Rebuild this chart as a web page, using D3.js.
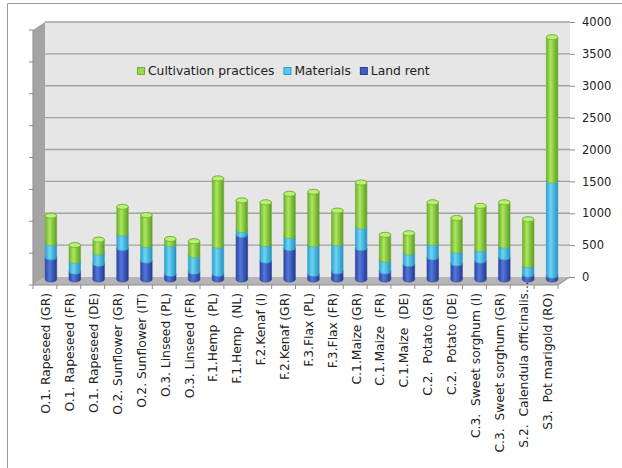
<!DOCTYPE html>
<html>
<head>
<meta charset="utf-8">
<script src="https://cdn.jsdelivr.net/npm/d3@7"></script>
<style>
  html, body { margin: 0; padding: 0; background: #fff; }
  svg { display: block; font-family: "DejaVu Sans", sans-serif; }
</style>
</head>
<body>
<svg id="chart" width="622" height="468"></svg>
<script>
// Crop cost breakdown (EUR/ha), stacked per crop / country
const categories = [
  "O.1. Rapeseed (GR)", "O.1. Rapeseed (FR)", "O.1. Rapeseed (DE)",
  "O.2. Sunflower (GR)", "O.2. Sunflower (IT)", "O.3. Linseed (PL)",
  "O.3. Linseed (FR)", "F.1.Hemp  (PL)", "F.1.Hemp  (NL)",
  "F.2.Kenaf (I)", "F.2.Kenaf (GR)", "F.3.Flax (PL)", "F.3.Flax (FR)",
  "C.1.Maize (GR)", "C.1.Maize  (FR)", "C.1.Maize  (DE)",
  "C.2.  Potato (GR)", "C.2.  Potato (DE)", "C.3.  Sweet sorghum (I)",
  "C.3.  Sweet sorghum (GR)", "S.2.  Calendula officinalis...", "S3.  Pot marigold (RO)"
];
const landRent    = [345, 120, 245, 490, 295,  85, 120,   85, 700, 295, 490,  85, 125, 490, 125, 240, 345, 250, 295, 345,  75,   60];
const materials   = [225, 175, 180, 230, 245, 470, 260,  445,  75, 260, 190, 465, 440, 340, 185, 185, 230, 200, 180, 185, 150, 1490];
const cultivation = [430, 245, 200, 420, 470,  80, 220, 1055, 465, 655, 665, 825, 515, 690, 390, 300, 635, 515, 680, 680, 720, 2250];
const seriesNames = ["Land rent", "Materials", "Cultivation practices"];
const legendOrder = ["Cultivation practices", "Materials", "Land rent"];
const yTicks = [0, 500, 1000, 1500, 2000, 2500, 3000, 3500, 4000];

const svg = d3.select("#chart");

// oblique projection: the back plane sits up-right of the front plane
const depthX = 12, depthY = 8;
const front = { left: 33, right: 558, floor: 285 };
const back  = { left: front.left + depthX, right: front.right + depthX, floor: front.floor - depthY, top: 22 };

const x = d3.scaleBand().domain(categories).range([front.left, front.right]);
const yBack = d3.scaleLinear().domain([0, 4000]).range([back.floor, back.top]);
const barShiftX = 6, barShiftY = 2.5;      // bars stand inside the depth of the floor
const yBar = v => yBack(v) + barShiftY;
const barW = 11.5, rx = barW / 2, ry = 2.5;

const colors = {
  "Cultivation practices": { edge: "#6fae2e", mid: "#a9e95c", dark: "#5f9a24", cap: "#b9f176", stroke: "#73ad34", key: "#9bd951" },
  "Materials":             { edge: "#2f9fcd", mid: "#6ad6f5", dark: "#2790be", cap: "#7fdcf7", stroke: "#2f9cc8", key: "#57c9ef" },
  "Land rent":             { edge: "#2a46a6", mid: "#5476db", dark: "#223b92", cap: "#6584e0", stroke: "#2a3f94", key: "#3f5fc6" }
};

// frame of the picture
svg.append("line").attr("x1", 7.5).attr("x2", 622).attr("y1", 3.5).attr("y2", 3.5)
  .attr("stroke", "#9a9a9a").attr("stroke-width", 1);
svg.append("line").attr("x1", 7.5).attr("x2", 7.5).attr("y1", 3.5).attr("y2", 468)
  .attr("stroke", "#9a9a9a").attr("stroke-width", 1);

// gradients for cylinder bodies
const defs = svg.append("defs");
Object.entries(colors).forEach(([name, c], i) => {
  const g = defs.append("linearGradient").attr("id", "grad" + i)
    .attr("x1", "0%").attr("x2", "100%").attr("y1", "0%").attr("y2", "0%");
  g.append("stop").attr("offset", "0%").attr("stop-color", c.edge);
  g.append("stop").attr("offset", "38%").attr("stop-color", c.mid);
  g.append("stop").attr("offset", "100%").attr("stop-color", c.dark);
  c.grad = "url(#grad" + i + ")";
});

// back wall
svg.append("rect")
  .attr("x", back.left).attr("y", back.top)
  .attr("width", back.right - back.left).attr("height", back.floor - back.top)
  .attr("fill", "#e6e6e6");

// side wall
svg.append("path")
  .attr("d", `M${front.left},${yBack(4000) + depthY} L${back.left},${back.top} L${back.left},${back.floor} L${front.left},${front.floor} Z`)
  .attr("fill", "#a4a4a4");

// floor
svg.append("path")
  .attr("d", `M${back.left},${back.floor} L${back.right},${back.floor} L${front.right},${front.floor} L${front.left},${front.floor} Z`)
  .attr("fill", "#b5b5b5");

// gridlines on the back wall
svg.append("g").selectAll("line").data(yTicks.filter(d => d > 0)).join("line")
  .attr("x1", back.left).attr("x2", back.right)
  .attr("y1", d => yBack(d)).attr("y2", d => yBack(d))
  .attr("stroke", "#a2a2a2").attr("stroke-width", 1.3);

// left (front) value axis: line and ticks only
svg.append("line")
  .attr("x1", front.left).attr("x2", front.left)
  .attr("y1", yBack(4000) + depthY).attr("y2", front.floor)
  .attr("stroke", "#8c8c8c");
svg.append("g").selectAll("line").data(yTicks).join("line")
  .attr("x1", front.left - 4).attr("x2", front.left)
  .attr("y1", d => yBack(d) + depthY).attr("y2", d => yBack(d) + depthY)
  .attr("stroke", "#8c8c8c");

// right value axis with labels
const rightAxis = d3.axisRight(yBack).tickValues(yTicks).tickSize(5).tickPadding(7).tickFormat(d3.format("d"));
const ra = svg.append("g").attr("transform", `translate(${back.right},0)`).call(rightAxis);
ra.select(".domain").remove();
ra.selectAll(".tick line").attr("stroke", "#8c8c8c");
ra.selectAll(".tick text").attr("font-size", "11.5px").attr("fill", "#222")
  .attr("font-family", "DejaVu Sans, sans-serif");

// category axis along the front edge of the floor
svg.append("line").attr("x1", front.left).attr("x2", front.right)
  .attr("y1", front.floor).attr("y2", front.floor).attr("stroke", "#8c8c8c");
svg.append("line").attr("x1", front.right).attr("x2", back.right)
  .attr("y1", front.floor).attr("y2", back.floor).attr("stroke", "#8c8c8c");
const boundaries = categories.map(c => x(c)).concat([front.right]);
svg.append("g").selectAll("line").data(boundaries).join("line")
  .attr("x1", d => d).attr("x2", d => d)
  .attr("y1", front.floor).attr("y2", front.floor + 4)
  .attr("stroke", "#8c8c8c");

// rotated category labels
const labelG = svg.append("g");
categories.forEach(c => {
  const cx = x(c) + x.bandwidth() / 2 + 1;
  const t = labelG.append("text")
    .attr("transform", `translate(${cx},${front.floor + 8}) rotate(-90)`)
    .attr("text-anchor", "end").attr("dy", "0.36em")
    .attr("font-size", "12.3px").attr("fill", "#222")
    .attr("xml:space", "preserve")
    .text(c);
  // a trailing ellipsis runs past the line of label ends
  if (c.endsWith("...")) {
    const probe = labelG.append("text").attr("font-size", "12.3px").attr("xml:space", "preserve").text("...");
    const w = probe.node().getComputedTextLength();
    probe.remove();
    t.attr("dx", w);
  }
});

// stacked cylinders
const table = categories.map((c, i) => ({
  cat: c, "Land rent": landRent[i], "Materials": materials[i], "Cultivation practices": cultivation[i]
}));
const stacked = d3.stack().keys(seriesNames)(table);

const bars = svg.append("g");
stacked.forEach((layer, li) => {
  const c = colors[layer.key];
  const isTop = li === stacked.length - 1;
  layer.forEach(d => {
    const cx = x(d.data.cat) + x.bandwidth() / 2 + barShiftX;
    const xl = cx - rx, xr = cx + rx;
    const yb = yBar(d[0]), yt = yBar(d[1]);
    bars.append("path")
      .attr("d", `M${xl},${yt} L${xl},${yb} A${rx},${ry} 0 0 0 ${xr},${yb} L${xr},${yt} A${rx},${ry} 0 0 0 ${xl},${yt} Z`)
      .attr("fill", c.grad).attr("stroke", c.stroke).attr("stroke-width", 0.6);
    if (isTop) {
      bars.append("ellipse")
        .attr("cx", cx).attr("cy", yt).attr("rx", rx).attr("ry", ry)
        .attr("fill", c.cap).attr("stroke", c.stroke).attr("stroke-width", 0.8);
    }
  });
});

// legend
const legend = svg.append("g").attr("transform", "translate(137,71)");
let lx = 0;
legendOrder.forEach(name => {
  const c = colors[name];
  legend.append("rect").attr("x", lx + 0.5).attr("y", -3.5).attr("width", 7).attr("height", 7)
    .attr("fill", c.key).attr("stroke", c.stroke).attr("stroke-width", 1);
  const t = legend.append("text").attr("x", lx + 11).attr("y", 0).attr("dy", "0.35em")
    .attr("font-size", "12.3px").attr("fill", "#222").text(name);
  lx += 11 + t.node().getComputedTextLength() + 9;
});
</script>
</body>
</html>
